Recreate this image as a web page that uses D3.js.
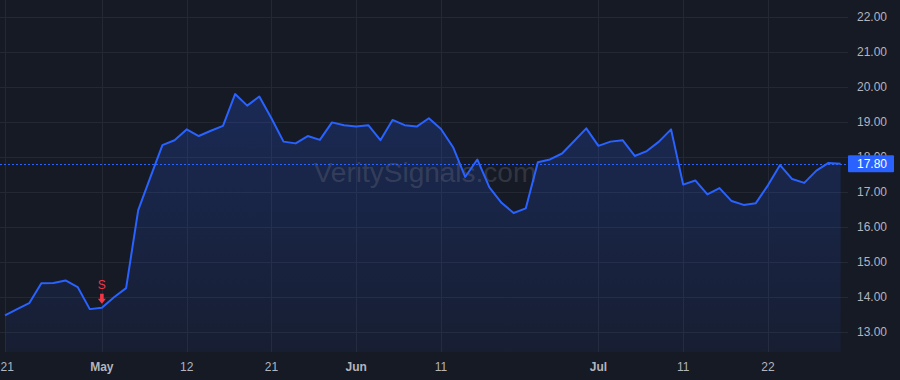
<!DOCTYPE html>
<html>
<head>
<meta charset="utf-8">
<script src="https://cdn.jsdelivr.net/npm/d3@7/dist/d3.min.js"></script>
<style>
  html, body { margin: 0; padding: 0; background: #161a25; }
  svg { display: block; }
  text { font-family: "Liberation Sans", Arial, sans-serif; }
</style>
</head>
<body>
<svg id="chart" width="900" height="380"></svg>
<script>
const dates = [
  "2025-04-21","2025-04-22","2025-04-23","2025-04-24","2025-04-25","2025-04-28","2025-04-29","2025-04-30",
  "2025-05-01","2025-05-02","2025-05-05","2025-05-06","2025-05-07","2025-05-08","2025-05-09","2025-05-12",
  "2025-05-13","2025-05-14","2025-05-15","2025-05-16","2025-05-19","2025-05-20","2025-05-21","2025-05-22",
  "2025-05-23","2025-05-27","2025-05-28","2025-05-29","2025-05-30","2025-06-02","2025-06-03","2025-06-04",
  "2025-06-05","2025-06-06","2025-06-09","2025-06-10","2025-06-11","2025-06-12","2025-06-13","2025-06-16",
  "2025-06-17","2025-06-18","2025-06-20","2025-06-23","2025-06-24","2025-06-25","2025-06-26","2025-06-27",
  "2025-06-30","2025-07-01","2025-07-02","2025-07-03","2025-07-07","2025-07-08","2025-07-09","2025-07-10",
  "2025-07-11","2025-07-14","2025-07-15","2025-07-16","2025-07-17","2025-07-18","2025-07-21","2025-07-22",
  "2025-07-23","2025-07-24","2025-07-25","2025-07-28","2025-07-29","2025-07-30"
];
const prices = [
  13.46,13.64,13.81,14.38,14.39,14.46,14.27,13.64,
  13.68,13.98,14.24,16.47,17.41,18.33,18.47,18.78,
  18.59,18.74,18.88,19.79,19.46,19.72,19.10,18.43,
  18.38,18.59,18.48,18.98,18.90,18.86,18.90,18.47,
  19.05,18.90,18.86,19.10,18.79,18.27,17.42,17.92,
  17.12,16.68,16.39,16.52,17.84,17.92,18.09,18.45,
  18.81,18.31,18.43,18.47,18.02,18.16,18.43,18.78,
  17.20,17.32,16.92,17.10,16.73,16.62,16.67,17.18,
  17.76,17.36,17.25,17.60,17.82,17.80
];
const xTickDates = ["2025-04-21","2025-05-01","2025-05-12","2025-05-21","2025-06-02","2025-06-11","2025-07-01","2025-07-11","2025-07-22"];
const xTickLabels = ["21","May","12","21","Jun","11","Jul","11","22"];
const xTickBold = [false,true,false,false,true,false,true,false,false];
const yTicks = [13,14,15,16,17,18,19,20,21,22];
const lastPrice = 17.80;
const signalDates = ["2025-05-01"];
const signalLabels = ["S"];

const W = 900, H = 380;
const plotRight = 848, plotBottom = 352;
const svg = d3.select("#chart");

const x = d3.scaleLinear().domain([0, dates.length - 1]).range([5, 840.6]);
const y = d3.scaleLinear().domain([13, 22]).range([331.5, 16.8]);

svg.append("rect").attr("width", W).attr("height", H).attr("fill", "#161a25");

const defs = svg.append("defs");
const grad = defs.append("linearGradient").attr("id", "fillGrad")
  .attr("gradientUnits", "userSpaceOnUse")
  .attr("x1", 0).attr("y1", y(19.8)).attr("x2", 0).attr("y2", plotBottom);
grad.append("stop").attr("offset", "0%").attr("stop-color", "#2962ff").attr("stop-opacity", 0.22);
grad.append("stop").attr("offset", "100%").attr("stop-color", "#2962ff").attr("stop-opacity", 0.06);

const clip = defs.append("clipPath").attr("id", "plotClip");
clip.append("rect").attr("x", 0).attr("y", 0).attr("width", plotRight).attr("height", plotBottom);

// grid
const grid = svg.append("g").attr("clip-path", "url(#plotClip)");
grid.selectAll("line.h").data(yTicks).enter().append("line")
  .attr("x1", 0).attr("x2", plotRight)
  .attr("y1", d => Math.round(y(d)) + 0.5).attr("y2", d => Math.round(y(d)) + 0.5)
  .attr("stroke", "#242833").attr("stroke-width", 1);
const tickIdx = xTickDates.map(d => dates.indexOf(d));
grid.selectAll("line.v").data(tickIdx).enter().append("line")
  .attr("x1", d => Math.round(x(d)) + 0.5).attr("x2", d => Math.round(x(d)) + 0.5)
  .attr("y1", 0).attr("y2", plotBottom)
  .attr("stroke", "#242833").attr("stroke-width", 1);

const series = prices.map((p, i) => ({ i, p }));

// area
const area = d3.area().x(d => x(d.i)).y0(plotBottom).y1(d => y(d.p));
svg.append("path").datum(series).attr("d", area).attr("fill", "url(#fillGrad)");

// watermark
svg.append("text").attr("x", 425).attr("y", 182).attr("text-anchor", "middle")
  .attr("font-size", 28).attr("fill", "#787b86").attr("fill-opacity", 0.3)
  .text("VeritySignals.com");

// last price line
svg.append("line").attr("x1", 0).attr("x2", plotRight)
  .attr("y1", Math.round(y(lastPrice)) + 0.5).attr("y2", Math.round(y(lastPrice)) + 0.5)
  .attr("stroke", "#2962ff").attr("stroke-width", 1).attr("stroke-dasharray", "2,2");

// line
const line = d3.line().x(d => x(d.i)).y(d => y(d.p));
svg.append("path").datum(series).attr("d", line)
  .attr("fill", "none").attr("stroke", "#2962ff").attr("stroke-width", 2)
  .attr("stroke-linejoin", "round");

// signal markers
signalDates.forEach((sd, k) => {
  const i = dates.indexOf(sd);
  const cx = x(i), py = y(prices[i]);
  const g = svg.append("g").attr("fill", "#f23645");
  g.append("text").attr("x", cx).attr("y", py - 19).attr("text-anchor", "middle")
    .attr("font-size", 12).text(signalLabels[k]);
  const top = py - 14;
  g.append("path").attr("d",
    `M${cx-1.8},${top} L${cx+1.8},${top} L${cx+1.8},${top+5} L${cx+4},${top+5} L${cx},${top+10} L${cx-4},${top+5} L${cx-1.8},${top+5} Z`);
});

// y axis labels (18.00 partly hidden behind the last-price tag, as in the source)
const yAxis = svg.append("g");
yAxis.selectAll("text").data(yTicks).enter().append("text")
  .attr("x", 887).attr("y", d => y(d)).attr("dy", "0.35em")
  .attr("text-anchor", "end").attr("font-size", 12).attr("fill", "#b2b5be")
  .text(d => d.toFixed(2));

// last price label
const ly = y(lastPrice);
svg.append("rect").attr("x", 848).attr("y", ly - 8.5).attr("width", 46).attr("height", 17)
  .attr("rx", 1).attr("fill", "#2962ff");
svg.append("text").attr("x", 887).attr("y", ly).attr("dy", "0.36em")
  .attr("text-anchor", "end").attr("font-size", 12).attr("fill", "#ffffff")
  .text(lastPrice.toFixed(2));

// x axis labels
const xAxis = svg.append("g");
xAxis.selectAll("text").data(tickIdx).enter().append("text")
  .attr("x", d => x(d)).attr("y", 367).attr("dy", "0.35em")
  .attr("text-anchor", "middle").attr("font-size", 12)
  .attr("font-weight", (d, k) => xTickBold[k] ? "bold" : "normal")
  .attr("fill", "#b2b5be")
  .text((d, k) => xTickLabels[k])
  .each(function() {
    const b = this.getBBox();
    if (b.x < 0.5) d3.select(this).attr("x", +d3.select(this).attr("x") - b.x + 0.5);
  });
</script>
</body>
</html>
